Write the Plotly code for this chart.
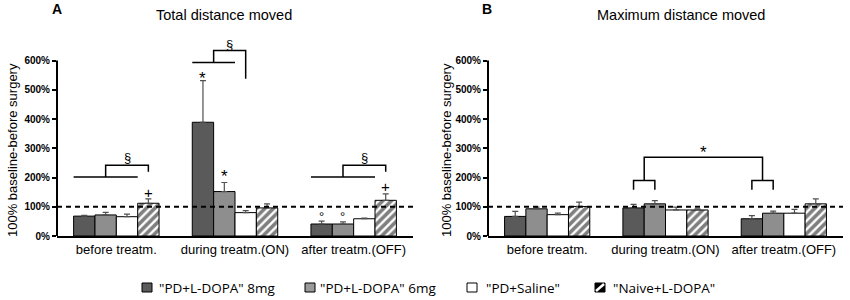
import plotly.graph_objects as go

categories = ["before treatm.", "during treatm.(ON)", "after treatm.(OFF)"]
series_names = ['"PD+L-DOPA" 8mg', '"PD+L-DOPA" 6mg', '"PD+Saline"', '"Naive+L-DOPA"']

# Panel A: Total distance moved (% of baseline)
a_pd8 = [68, 389, 41]
a_pd6 = [72, 152, 41]
a_sal = [66, 80, 59]
a_naive = [112, 96, 122]
a_pd8_err = [3, 142, 10]
a_pd6_err = [9, 31, 7]
a_sal_err = [9, 7, 2]
a_naive_err = [15, 14, 22]

# Panel B: Maximum distance moved (% of baseline)
b_pd8 = [67, 96, 59]
b_pd6 = [93, 110, 78]
b_sal = [73, 89, 78]
b_naive = [101, 89, 110]
b_pd8_err = [17, 12, 11]
b_pd6_err = [6, 11, 7]
b_sal_err = [5, 10, 13]
b_naive_err = [15, 4, 17]

tick_vals = [0, 100, 200, 300, 400, 500, 600]
tick_text = ["0%", "100%", "200%", "300%", "400%", "500%", "600%"]

colors = ["#5a5a5a", "#8e8e8e", "#ffffff", "#ffffff"]
W, H = 850, 300

def px(x):
    return x / W

def py(y):
    return (H - y) / H

fig = go.Figure()

panels = [
    ("x", "y", [a_pd8, a_pd6, a_sal, a_naive], [a_pd8_err, a_pd6_err, a_sal_err, a_naive_err]),
    ("x2", "y2", [b_pd8, b_pd6, b_sal, b_naive], [b_pd8_err, b_pd6_err, b_sal_err, b_naive_err]),
]
for xa, ya, vals, errs in panels:
    for i, (name, v, e) in enumerate(zip(series_names, vals, errs)):
        marker = dict(color=colors[i], line=dict(color="black", width=1))
        if i == 3:
            marker["pattern"] = dict(shape="/", fgcolor="black", bgcolor="white", size=6, solidity=0.6)
        fig.add_trace(go.Bar(
            x=categories, y=v, name=name, xaxis=xa, yaxis=ya, marker=marker,
            error_y=dict(type="data", symmetric=False, array=e, arrayminus=[0] * len(e),
                         color="#505050", thickness=1.2, width=3),
            showlegend=False,
        ))

ydom = [py(236), py(43)]
axis_common = dict(showgrid=False, zeroline=False)
fig.update_layout(
    width=W, height=H, margin=dict(l=0, r=0, t=0, b=0),
    paper_bgcolor="white", plot_bgcolor="white",
    barmode="group", bargap=0.28, bargroupgap=0,
    font=dict(family="Arial, Liberation Sans, sans-serif", color="black"),
    xaxis=dict(domain=[px(57), px(413)], anchor="y", showline=True, linecolor="black", linewidth=2,
               ticks="", tickfont=dict(size=13), range=[-0.5, 2.5], automargin=False, **axis_common),
    xaxis2=dict(domain=[px(488), px(843)], anchor="y2", showline=True, linecolor="black", linewidth=2,
                ticks="", tickfont=dict(size=13), range=[-0.5, 2.5], automargin=False, **axis_common),
    yaxis=dict(domain=ydom, anchor="x", range=[0, 660], tickvals=tick_vals, ticktext=tick_text,
               ticks="outside", ticklen=4, tickwidth=1.5, tickcolor="black", showline=False,
               tickfont=dict(size=10, weight="bold"), automargin=False, **axis_common),
    yaxis2=dict(domain=ydom, anchor="x2", range=[0, 660], tickvals=tick_vals, ticktext=tick_text,
                ticks="outside", ticklen=4, tickwidth=1.5, tickcolor="black", showline=False,
                tickfont=dict(size=10, weight="bold"), automargin=False, **axis_common),
)

shapes = []
# y axis lines up to 600% and dashed 100% baseline
for xa, ya in [("x", "y"), ("x2", "y2")]:
    shapes.append(dict(type="line", xref=f"{xa} domain", yref=ya, x0=0, x1=0, y0=0, y1=600,
                       line=dict(color="black", width=2)))
    shapes.append(dict(type="line", xref=f"{xa} domain", yref=ya, x0=0, x1=1, y0=100, y1=100,
                       line=dict(color="black", width=2, dash="5px,4px")))

def off(i):
    return (i - 1.5) * 0.18

def seg(xa, ya, pts):
    path = "M " + " L ".join(f"{x},{y}" for x, y in pts)
    shapes.append(dict(type="path", xref=xa, yref=ya, path=path,
                       line=dict(color="black", width=1.5)))

# Panel A brackets
for c in (0, 2):
    seg("x", "y", [(c + off(0) - 0.09, 202), (c + off(2) + 0.09, 202)])
    seg("x", "y", [(c + off(1), 202), (c + off(1), 242), (c + off(3), 242), (c + off(3), 220)])
c = 1
seg("x", "y", [(c + off(0) - 0.09, 593), (c + off(1) + 0.09, 593)])
seg("x", "y", [(c - 0.18, 593), (c - 0.18, 634), (c + off(2), 634), (c + off(2), 538)])

# Panel B brackets
for c in (1, 2):
    seg("x2", "y2", [(c + off(0), 158), (c + off(0), 190), (c + off(1), 190), (c + off(1), 158)])
seg("x2", "y2", [(1 - 0.18, 190), (1 - 0.18, 269), (2 - 0.18, 269), (2 - 0.18, 190)])

# Manual legend
leg_y0, leg_y1 = 283, 292
legend_items = [(142, 157), (305, 318), (467, 484), (595, 611)]
leg_colors = ["#5a5a5a", "#9a9a9a", "#ffffff", "#000000"]
annotations = []
for i, ((sx, tx), name) in enumerate(zip(legend_items, series_names)):
    shapes.append(dict(type="rect", xref="paper", yref="paper", x0=px(sx), x1=px(sx + 10),
                       y0=py(leg_y1), y1=py(leg_y0), fillcolor=leg_colors[i],
                       line=dict(color="black", width=1)))
    if i == 3:
        shapes.append(dict(type="line", xref="paper", yref="paper", x0=px(sx + 1), x1=px(sx + 9),
                           y0=py(leg_y1 - 1), y1=py(leg_y0 + 1), line=dict(color="white", width=2.5)))
    annotations.append(dict(text=name, xref="paper", yref="paper", x=px(tx), y=py(287.5),
                            xanchor="left", yanchor="middle", showarrow=False,
                            font=dict(family="Open Sans, sans-serif", size=13.5)))

fig.update_layout(shapes=shapes)

def note(text, xa, ya, x, y, size=13):
    annotations.append(dict(text=text, xref=xa, yref=ya, x=x, y=y, showarrow=False,
                            xanchor="center", yanchor="middle", font=dict(size=size, color="black")))

# Panel A marks
note("+", "x", "y", 0 + off(3), 150, 15)
note("§", "x", "y", 0.09, 267, 13)
note("*", "x", "y", 1 + off(0), 540, 17)
note("*", "x", "y", 1 + off(1), 204, 17)
note("§", "x", "y", 1 - 0.045, 654, 13)
note("°", "x", "y", 2 + off(0), 66, 13)
note("°", "x", "y", 2 + off(1), 66, 13)
note("+", "x", "y", 2 + off(3), 171, 15)
note("§", "x", "y", 2.09, 267, 13)
# Panel B mark
note("*", "x2", "y2", 1.32, 284, 17)

# Titles and axis titles
for txt, x, y, size, bold in [
    ("A", 57, 9.5, 14, True), ("Total distance moved", 224, 15, 14.5, False),
    ("B", 487.5, 9.5, 14, True), ("Maximum distance moved", 681, 15, 14.5, False),
]:
    annotations.append(dict(text=f"<b>{txt}</b>" if bold else txt, xref="paper", yref="paper",
                            x=px(x), y=py(y), showarrow=False, xanchor="center", yanchor="middle",
                            font=dict(size=size)))
for x in (12, 446):
    annotations.append(dict(text="100% baseline-before surgery", xref="paper", yref="paper",
                            x=px(x), y=py(150), textangle=-90, showarrow=False,
                            xanchor="center", yanchor="middle", font=dict(size=13)))

fig.update_layout(annotations=annotations)
fig.write_html("out.html", config={"displayModeBar": False},
               post_script="document.body.style.margin='0';document.body.style.padding='0';")
